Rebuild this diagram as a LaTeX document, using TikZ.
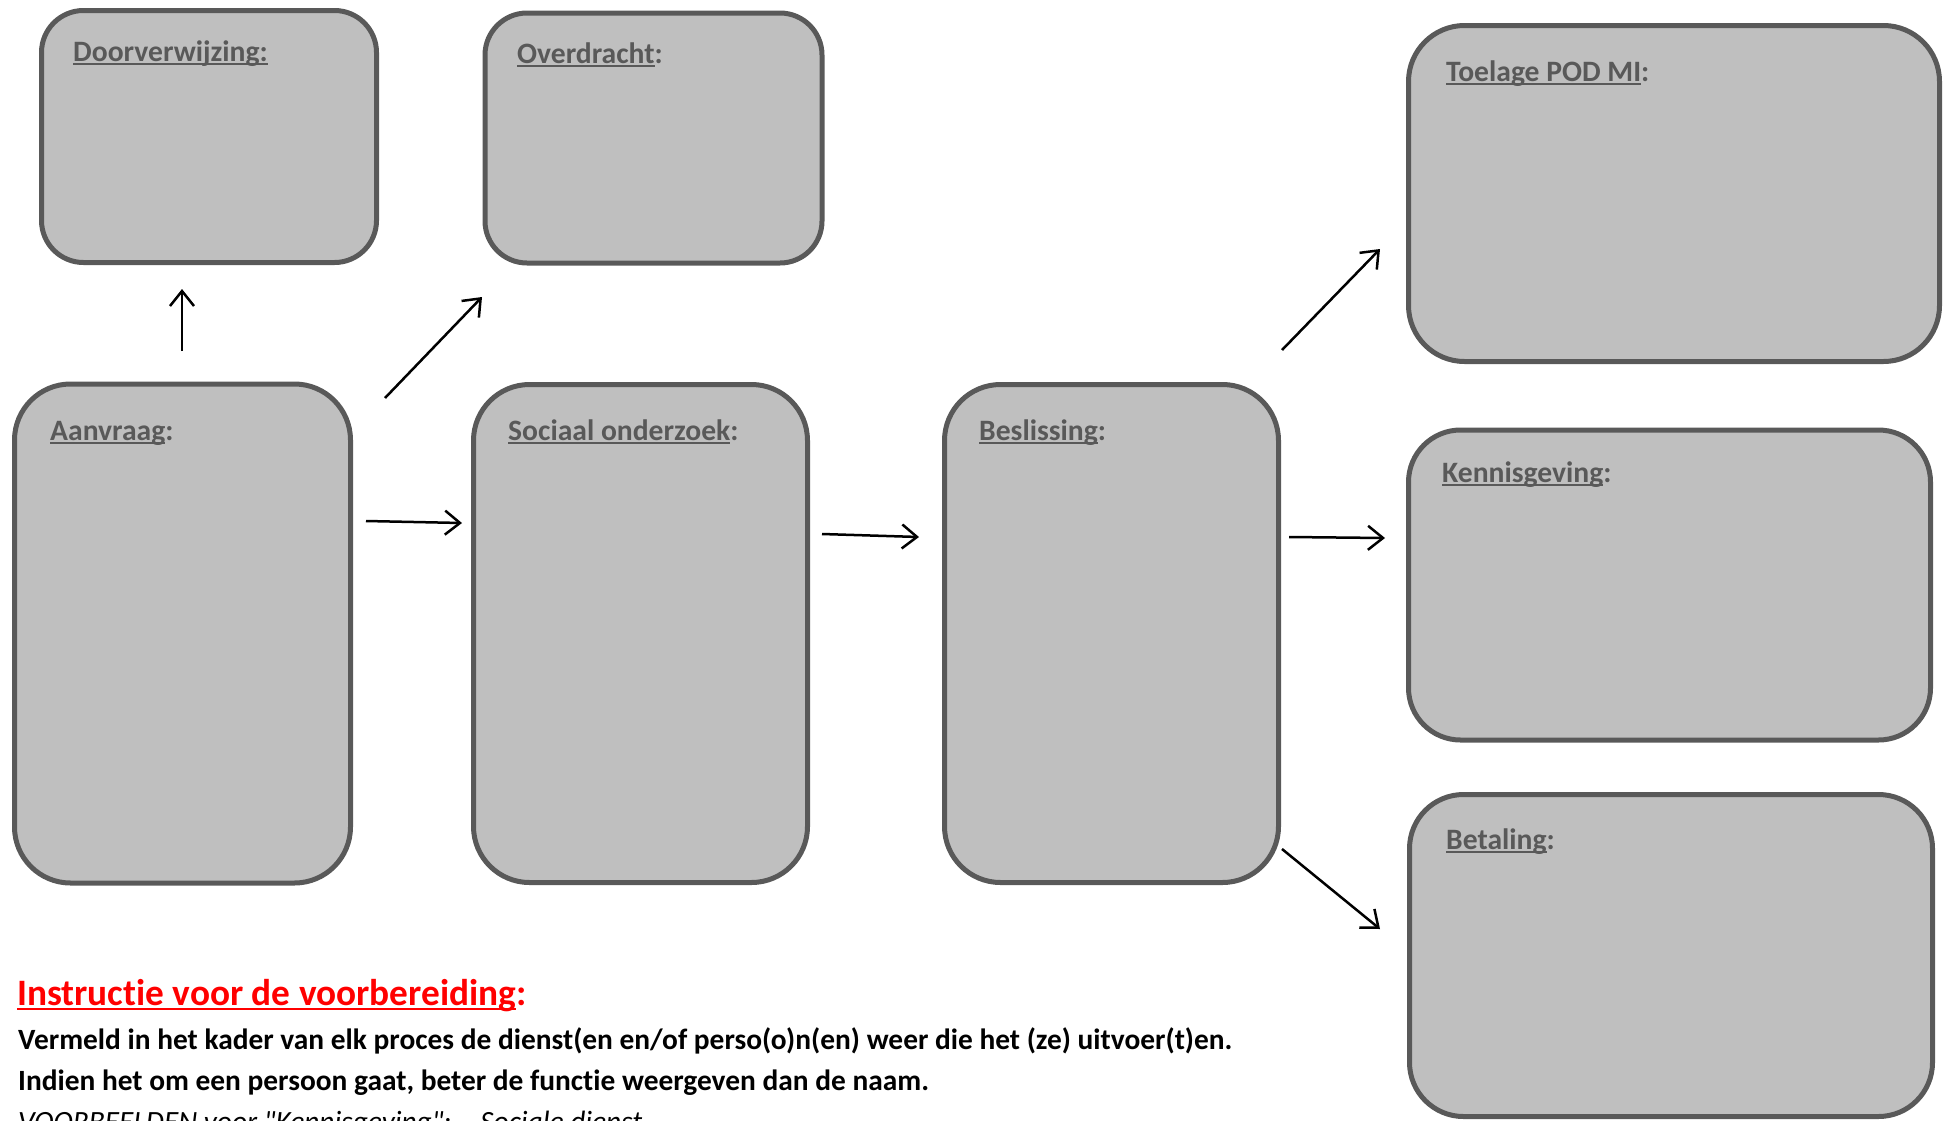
\documentclass[tikz,border=0pt]{standalone}
\usepackage{fontspec}
\setmainfont{Carlito}[Ligatures={TeXOff,CommonOff}]
\usetikzlibrary{arrows.meta}
\definecolor{boxfill}{HTML}{BFBFBF}
\definecolor{boxline}{HTML}{595959}
\definecolor{titlered}{HTML}{FF0000}
\newcommand\ulin[1]{\setbox0=\hbox{#1}\rlap{\rule[-0.14em]{\wd0}{0.07em}}\box0}
\begin{document}
\begin{tikzpicture}[x=1pt,y=-1pt,
  procbox/.style={draw=boxline,fill=boxfill,line width=5pt,inner sep=0pt,rectangle},
  lbl/.style={anchor=base west,inner sep=0pt,text=boxline,font=\fontsize{29.6}{36}\selectfont\bfseries},
  flow/.style={draw=black,line width=2.5pt,-{Straight Barb[length=15pt,width=24pt]}},
  bodytxt/.style={anchor=base west,inner sep=0pt,font=\fontsize{29.4}{35}\selectfont\bfseries}]
\useasboundingbox (0,0) rectangle (1944,1120);
% boxes
\node[procbox,minimum width=335pt,minimum height=252pt,rounded corners=42pt] (dv) at (209,136.5) {};
\node[procbox,minimum width=337pt,minimum height=250pt,rounded corners=42pt] (ov) at (653.5,138) {};
\node[procbox,minimum width=531pt,minimum height=336pt,rounded corners=56pt] (tp) at (1674,193.5) {};
\node[procbox,minimum width=336pt,minimum height=499pt,rounded corners=56pt] (av) at (182.5,633.5) {};
\node[procbox,minimum width=334pt,minimum height=498pt,rounded corners=56pt] (so) at (640.5,633.5) {};
\node[procbox,minimum width=334pt,minimum height=498pt,rounded corners=56pt] (bs) at (1111.5,633.5) {};
\node[procbox,minimum width=522pt,minimum height=310pt,rounded corners=52pt] (kg) at (1669.5,585) {};
\node[procbox,minimum width=523pt,minimum height=322pt,rounded corners=54pt] (bt) at (1671,955.5) {};
% labels
\node[lbl] (ldv) at (73,61) {\ulin{Doorverwijzing:}};
\node[lbl] (lov) at (517,63) {\ulin{Overdracht}:};
\node[lbl] (ltp) at (1446,81) {\ulin{Toelage POD MI}:};
\node[lbl] (lav) at (50,440) {\ulin{Aanvraag}:};
\node[lbl] (lso) at (508,440) {\ulin{Sociaal onderzoek}:};
\node[lbl] (lbs) at (979,440) {\ulin{Beslissing}:};
\node[lbl] (lkg) at (1442,482) {\ulin{Kennisgeving}:};
\node[lbl] (lbt) at (1446,849) {\ulin{Betaling}:};
% arrow end points
\coordinate (a1s) at (182,351); \coordinate (a1e) at (182,289);
\coordinate (a2s) at (385,398); \coordinate (a2e) at (482,297);
\coordinate (a3s) at (366,521); \coordinate (a3e) at (462,523);
\coordinate (a4s) at (822,534); \coordinate (a4e) at (919,537);
\coordinate (a5s) at (1282,350); \coordinate (a5e) at (1380,249);
\coordinate (a6s) at (1289,537); \coordinate (a6e) at (1385,538);
\coordinate (a7s) at (1282,849); \coordinate (a7e) at (1380,929);
\draw[flow] (a1s) -- (a1e);
\draw[flow] (a2s) -- (a2e);
\draw[flow] (a3s) -- (a3e);
\draw[flow] (a4s) -- (a4e);
\draw[flow] (a5s) -- (a5e);
\draw[flow] (a6s) -- (a6e);
\draw[flow] (a7s) -- (a7e);
% instructions
\node[anchor=base west,inner sep=0pt,text=titlered,font=\fontsize{37.3}{46}\selectfont\bfseries] (ttl) at (17,1005) {\ulin{Instructie voor de voorbereiding}:};
\node[bodytxt] (ln1) at (18,1049) {Vermeld in het kader van elk proces de dienst(en en/of perso(o)n(en) weer die het (ze) uitvoer(t)en.};
\node[bodytxt] (ln2) at (18,1090) {Indien het om een persoon gaat, beter de functie weergeven dan de naam.};
\node[anchor=base west,inner sep=0pt,font=\fontsize{29.4}{35}\selectfont\itshape] (ln3) at (18,1131) {VOORBEELDEN voor "Kennisgeving":\ \ - Sociale dienst};
\end{tikzpicture}
\end{document}
